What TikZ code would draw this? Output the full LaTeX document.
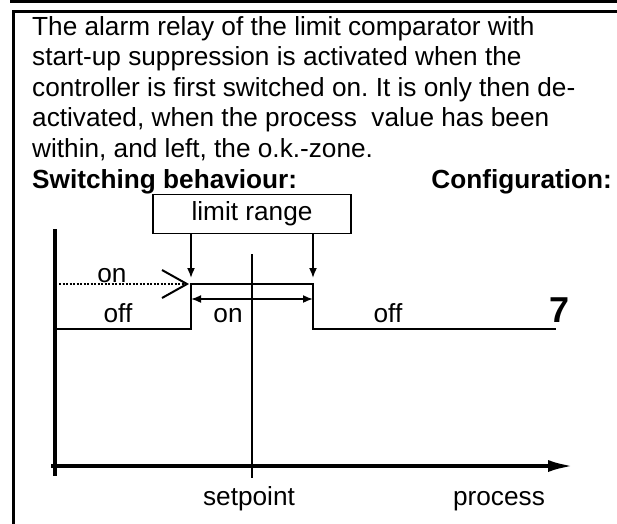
\documentclass[tikz,border=0pt]{standalone}
\usepackage{fontspec}
\setmainfont{Liberation Sans}
\usetikzlibrary{arrows.meta,calc}
\newcommand{\txtsize}{\fontsize{26.2}{30.6}\selectfont}
\frenchspacing

\begin{document}
\begin{tikzpicture}[x=1pt, y=-1pt, >={Latex[length=10pt,width=8pt]},
    lbl/.style={font=\txtsize, inner sep=0pt},
    head/.style={font=\txtsize\bfseries, inner sep=0pt},
    rline/.style={line width=1.7pt}]

    \useasboundingbox (0,0) rectangle (617,523);
    \fill[white] (0,0) rectangle (617,523);

    % Rahmen (oben abgeschnitten)
    \draw[line width=3pt] (11,-4) -- (11,1.5) -- (625,1.5);
    \draw[line width=2.5pt] (13.5,530) -- (13.5,11.5) -- (625,11.5);

    % Beschreibung
    \node[lbl, anchor=base west] (l1) at (32,35) {The alarm relay of the limit comparator with};
    \node[lbl, anchor=base west] (l2) at (32,65.6) {start-up suppression is activated when the};
    \node[lbl, anchor=base west] (l3) at (32,96.2) {controller is first switched on. It is only then de-};
    \node[lbl, anchor=base west] (l4) at (32,126.8) {activated, when the process\ \ value has been};
    \node[lbl, anchor=base west] (l5) at (32,157.4) {within, and left, the o.k.-zone.};
    \node[head, anchor=base west] (sw) at (32,188) {Switching behaviour:};
    \node[head, anchor=base east] (cf) at (612,188) {Configuration:};

    % Grenzbereich
    \node[draw, rline, lbl, minimum width=198pt, minimum height=39pt] (range) at (252,214) {limit range};

    % Achsen
    \coordinate (ytop) at (55,229);
    \coordinate (ybot) at (55,476);
    \coordinate (xbeg) at (51,466);
    \coordinate (xend) at (574,466);
    \draw[line width=4pt] (ytop) -- (ybot);
    \draw[line width=4pt, -{Latex[length=26pt,width=12pt]}] (xbeg) -- (xend);

    % Sollwert
    \coordinate (sp) at (252,254);
    \coordinate (spbot) at (252,478);
    \draw[line width=1.5pt] (sp) -- (spbot);
    \node[lbl, anchor=base] (setp) at (249,505) {setpoint};
    \node[lbl, anchor=base] (proc) at (499,505) {process};

    % Relais
    \coordinate (offl) at (55,329);
    \coordinate (rise) at (191,284);
    \coordinate (fall) at (313,284);
    \coordinate (offr) at (556,329);
    \draw[line width=2.2pt] (offl) -| (rise) -- (fall) |- (offr);

    \draw[->, rline, shorten >=6pt] (range.south -| rise) -- (rise);
    \draw[->, rline, shorten >=6pt] (range.south -| fall) -- (fall);

    % Anlaufunterdrueckung
    \coordinate (dots) at (59,284);
    \draw[rline, dash pattern=on 2pt off 1.5pt] (dots) -- ([xshift=-4pt]rise);
    \draw[line width=2pt] ($(rise)+(-29,-14)$) -- ([xshift=-4pt]rise) -- ($(rise)+(-29,14)$);

    \draw[<->, rline] ($(rise)+(0,15)$) -- ($(fall)+(0,15)$);

    % Schaltzustaende
    \node[lbl, anchor=base] (on1) at (112,282) {on};
    \node[lbl, anchor=base] (off1) at (118,322) {off};
    \node[lbl, anchor=base] (on2) at (228,322) {on};
    \node[lbl, anchor=base] (off2) at (388,322) {off};
    \node[inner sep=0pt, anchor=base, font=\fontsize{36}{40}\selectfont\bfseries] (cfg) at (559,322) {7};

\end{tikzpicture}
\end{document}
